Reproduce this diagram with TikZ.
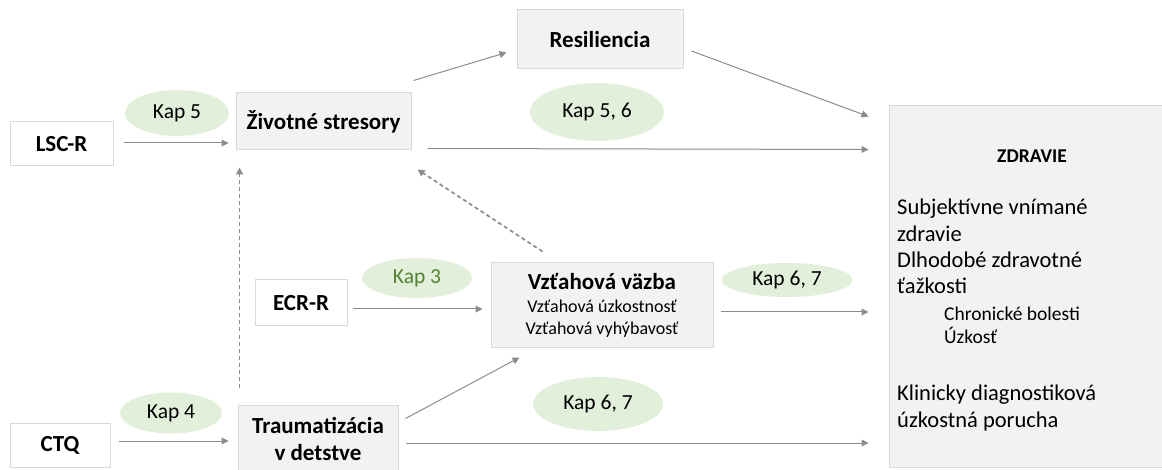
\documentclass[tikz,border=0pt]{standalone}
\usepackage{fontspec}
\setmainfont{Carlito}
\usetikzlibrary{arrows.meta,shapes.geometric}
\definecolor{boxgray}{HTML}{F2F2F2}
\definecolor{edgegray}{HTML}{D9D9D9}
\definecolor{kapgreen}{HTML}{E2EFDA}
\definecolor{arrgray}{HTML}{8C8C8C}
\definecolor{kapdark}{HTML}{548235}
\tikzset{
  scalebox/.style={draw=edgegray, line width=1pt, fill=white, inner sep=0pt,
    font=\bfseries\fontsize{23}{27}\selectfont},
  varbox/.style={draw=edgegray, line width=1pt, fill=boxgray, inner sep=0pt, align=center,
    font=\bfseries\fontsize{23}{27}\selectfont},
  kap/.style={ellipse, fill=kapgreen, inner sep=0pt, font=\fontsize{21.5}{25}\selectfont},
  arr/.style={draw=arrgray, line width=1pt, -{Triangle[width=7pt,length=7pt]}},
  dasharr/.style={arr, line width=1.7pt, dash pattern=on 4pt off 3pt},
  zline/.style={anchor=west, inner sep=0pt, text height=15pt, text depth=5pt,
    font=\fontsize{22.5}{26}\selectfont},
  zsmall/.style={zline, font=\fontsize{19.5}{23}\selectfont}
}
\begin{document}
\begin{tikzpicture}[x=1pt, y=-1pt]
    \useasboundingbox (0,0) rectangle (1162,470);
    % Questionnaires
    \node[scalebox, minimum width=103, minimum height=44] (lsc) at (61.5,144) {LSC-R};
    \node[scalebox, minimum width=92, minimum height=46] (ecr) at (301,303) {ECR-R};
    \node[scalebox, minimum width=100, minimum height=44] (ctq) at (60,445) {CTQ};
    % Variables
    \node[varbox, minimum width=175, minimum height=57] (zivot) at (323.5,121.5) {Životné stresory};
    \node[varbox, minimum width=166, minimum height=59] (res) at (600,39.5) {Resiliencia};
    \node[varbox, minimum width=222, minimum height=84] (vztah) at (602,305)
        {Vzťahová väzba\\[-4pt]{\mdseries\fontsize{18}{21}\selectfont Vzťahová úzkostnosť}\\[-5pt]
         {\mdseries\fontsize{18}{21}\selectfont Vzťahová vyhýbavosť}};
    \node[varbox, minimum width=160, minimum height=68] (trauma) at (318,439) {Traumatizácia\\v detstve};
    \node[varbox, minimum width=284, minimum height=361] (zdravie) at (1031,286.5) {};
    \node[inner sep=0pt, font=\bfseries\fontsize{19.5}{23}\selectfont] (ztitle) at (1032,156) {ZDRAVIE};
    \foreach \n/\s/\x/\y/\t in {1/zline/897/210/Subjektívne vnímané, 2/zline/897/237/zdravie,
        3/zline/897/263/Dlhodobé zdravotné, 4/zline/897/289/ťažkosti,
        5/zsmall/944/316/Chronické bolesti, 6/zsmall/944/339/Úzkosť,
        7/zline/897/395/Klinicky diagnostiková, 8/zline/897/422/úzkostná porucha}
        \node[\s] (z\n) at (\x,\y) {\t};
    % Chapters
    \node[kap, minimum width=104, minimum height=46] (k5) at (177,113) {Kap 5};
    \node[kap, minimum width=134, minimum height=58] (k56) at (597,112) {Kap 5, 6};
    \node[kap, minimum width=110, minimum height=40, text=kapdark] (k3) at (417,278) {Kap 3};
    \node[kap, minimum width=131, minimum height=34] (k67a) at (787,280) {Kap 6, 7};
    \node[kap, minimum width=102, minimum height=41] (k4) at (171,413) {Kap 4};
    \node[kap, minimum width=130, minimum height=54] (k67b) at (598,404) {Kap 6, 7};
    % Connectors
    \draw[arr, shorten <=10pt, shorten >=7pt] ([yshift=1pt]lsc.east) -- ([yshift=1pt]lsc.east -| zivot.west);
    \draw[arr, shorten <=8pt, shorten >=9pt] ([yshift=4pt]ctq.east) -- ([yshift=4pt]ctq.east -| trauma.west);
    \draw[arr, shorten <=5pt, shorten >=8pt] ([yshift=-6pt]ecr.east) -- ([yshift=-6pt]ecr.east -| vztah.west);
    \draw[arr] ([shift={(2,-12)}]zivot.north east) -- ([shift={(-10,-17)}]res.south west);
    \draw[arr] ([shift={(8,11.5)}]res.east) -- ([shift={(-20,11)}]zdravie.north west);
    \draw[arr] ([shift={(16,-2)}]zivot.south east) -- ([shift={(-20,44)}]zdravie.north west);
    \draw[arr, shorten <=7pt, shorten >=20pt] ([yshift=-7pt]vztah.east) -- ([yshift=-7pt]vztah.east -| zdravie.west);
    \draw[arr] ([shift={(7,14)}]trauma.north east) -- ([shift={(29,10)}]vztah.south west);
    \draw[arr, shorten <=7pt, shorten >=20pt] ([yshift=-4pt]trauma.east) -- ([yshift=-4pt]trauma.east -| zdravie.west);
    \draw[dasharr] ([shift={(2,-17)}]trauma.north west) -- ([shift={(4,17)}]zivot.south west);
    \draw[dasharr] ([shift={(52,-11)}]vztah.north west) -- ([shift={(6,19)}]zivot.south east);
\end{tikzpicture}
\end{document}
